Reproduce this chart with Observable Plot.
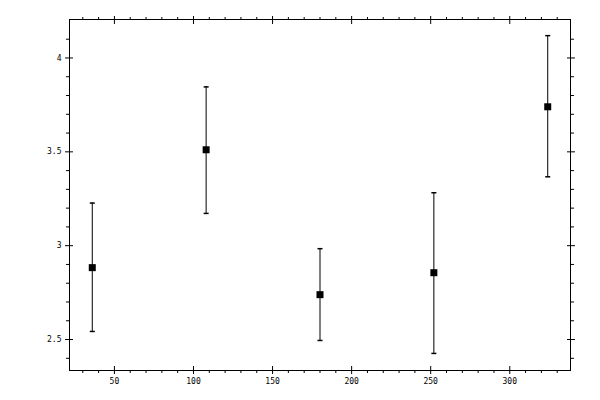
<!DOCTYPE html>
<html><head><meta charset="utf-8">
<script src="https://cdn.jsdelivr.net/npm/d3@7"></script>
<script src="https://cdn.jsdelivr.net/npm/@observablehq/plot@0.6"></script>
<style>body{margin:0;background:#fff}</style>
</head><body><div id="chart"></div>
<script>
const xs = [36, 108, 180, 252, 324];
const ys = [2.883, 3.511, 2.739, 2.856, 3.740];
const yLow = [2.543, 3.172, 2.495, 2.426, 3.367];
const yHigh = [3.227, 3.846, 2.984, 3.282, 4.119];
const xMajor = [50, 100, 150, 200, 250, 300];
const xMinor = [30, 40, 60, 70, 80, 90, 110, 120, 130, 140, 160, 170, 180, 190, 210, 220, 230, 240, 260, 270, 280, 290, 310, 320, 330];
const yMajor = [2.5, 3, 3.5, 4];
const yMinor = [2.4, 2.6, 2.7, 2.8, 2.9, 3.1, 3.2, 3.3, 3.4, 3.6, 3.7, 3.8, 3.9, 4.1];

const data = xs.map((x, i) => ({x, y: ys[i], lo: yLow[i], hi: yHigh[i]}));

const capSymbol = {draw(ctx) { ctx.moveTo(-2.5, 0); ctx.lineTo(2.5, 0); }};

const font = {fontFamily: "DejaVu Sans Mono", fontSize: 8};
const fmt = d => String(d);

const chart = Plot.plot({
  width: 600,
  height: 400,
  marginLeft: 69,
  marginRight: 30,
  marginTop: 19,
  marginBottom: 30,
  style: {background: "#fff", color: "#000"},
  x: {domain: [21.6, 338.4]},
  y: {domain: [2.335, 4.205]},
  marks: [
    Plot.frame({stroke: "#000"}),
    // bottom
    Plot.axisX(xMajor, {anchor: "bottom", tickSize: 8, dy: -4, fill: "none", label: null}),
    Plot.axisX(xMinor, {anchor: "bottom", tickSize: 3, fill: "none", label: null}),
    Plot.axisX(xMajor, {anchor: "bottom", tickSize: 0, tickPadding: 8, tickFormat: fmt, label: null, ...font}),
    // top
    Plot.axisX(xMajor, {anchor: "top", tickSize: 8, dy: 4, fill: "none", label: null}),
    Plot.axisX(xMinor, {anchor: "top", tickSize: 3, fill: "none", label: null}),
    // left
    Plot.axisY(yMajor, {anchor: "left", tickSize: 8, dx: 4, fill: "none", label: null}),
    Plot.axisY(yMinor, {anchor: "left", tickSize: 3, fill: "none", label: null}),
    Plot.axisY(yMajor, {anchor: "left", tickSize: 0, tickPadding: 8, tickFormat: fmt, label: null, ...font}),
    // right
    Plot.axisY(yMajor, {anchor: "right", tickSize: 8, dx: -4, fill: "none", label: null}),
    Plot.axisY(yMinor, {anchor: "right", tickSize: 3, fill: "none", label: null}),
    // error bars
    Plot.ruleX(data, {x: "x", y1: "lo", y2: "hi", stroke: "#000", strokeWidth: 1}),
    Plot.dot(data, {x: "x", y: "lo", symbol: capSymbol, stroke: "#000", fill: "none", r: 3}),
    Plot.dot(data, {x: "x", y: "hi", symbol: capSymbol, stroke: "#000", fill: "none", r: 3}),
    Plot.dot(data, {x: "x", y: "y", symbol: "square", r: 3.95, fill: "#000", stroke: "none"})
  ]
});
document.getElementById("chart").appendChild(chart);
</script>
</body></html>
